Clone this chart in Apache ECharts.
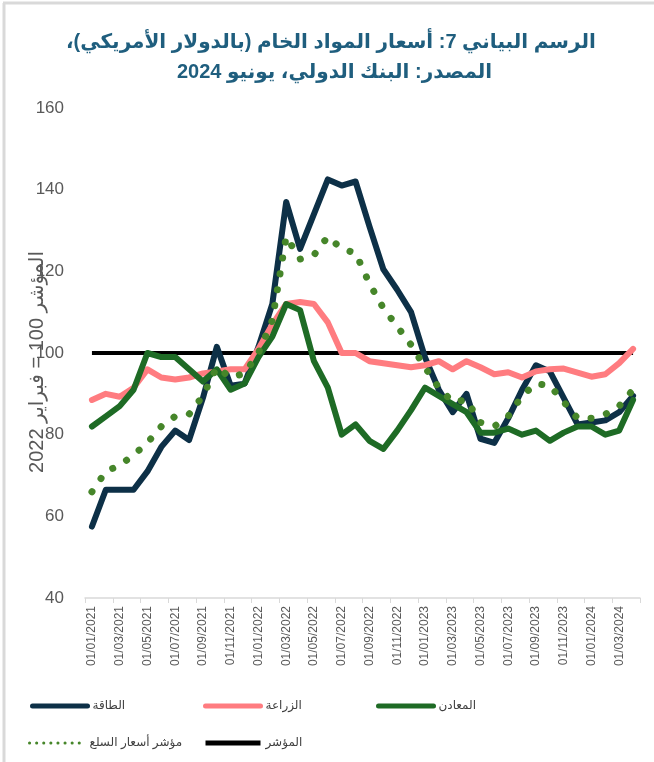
<!DOCTYPE html>
<html>
<head>
<meta charset="utf-8">
<script src="https://cdn.jsdelivr.net/npm/echarts@6/dist/echarts.min.js"></script>
<style>
  html, body { margin: 0; padding: 0; background: #fff; }
  #chart { width: 654px; height: 762px; }
</style>
</head>
<body>
<!-- rtl so the Arabic punctuation and brackets sit where they belong -->
<div id="chart" dir="rtl"></div>
<script>
// monthly, Jan 2021 - Apr 2024 (index, Feb 2022 = 100)
const months = [
  '01/01/2021', '01/02/2021', '01/03/2021', '01/04/2021', '01/05/2021', '01/06/2021',
  '01/07/2021', '01/08/2021', '01/09/2021', '01/10/2021', '01/11/2021', '01/12/2021',
  '01/01/2022', '01/02/2022', '01/03/2022', '01/04/2022', '01/05/2022', '01/06/2022',
  '01/07/2022', '01/08/2022', '01/09/2022', '01/10/2022', '01/11/2022', '01/12/2022',
  '01/01/2023', '01/02/2023', '01/03/2023', '01/04/2023', '01/05/2023', '01/06/2023',
  '01/07/2023', '01/08/2023', '01/09/2023', '01/10/2023', '01/11/2023', '01/12/2023',
  '01/01/2024', '01/02/2024', '01/03/2024', '01/04/2024'
]
const energy = [57.5, 66.5, 66.5, 66.5, 71, 77, 81, 78.7, 89, 101.5, 92, 92.5, 101.5, 112, 137, 125.5, 134, 142.5, 141, 142,
  131, 120.5, 115.5, 110, 99, 91, 85.5, 90, 79, 78, 84, 91, 97, 95.5, 89, 82.5, 83, 83.5, 85.5, 89.5]
const agriculture = [88.5, 90, 89.3, 91.5, 96, 94, 93.5, 94, 95, 95.5, 96, 96, 101, 107, 112, 112.5, 112, 107.5, 100, 100,
  98, 97.5, 97, 96.5, 97, 98, 96, 98, 96.5, 94.8, 95.3, 94, 95.5, 96, 96.2, 95.2, 94.2, 94.8, 97.5, 101]
const metals = [82, 84.5, 87, 91, 100, 99, 99, 96, 93, 96, 91, 92.5, 99, 104, 112, 110.5, 98, 91.5, 80, 82.5,
  78.5, 76.5, 81, 86, 91.5, 89.5, 87.5, 85.5, 80.5, 80.5, 81.5, 80, 81, 78.5, 80.5, 82, 82, 80, 81, 88.5]
const commodityIndex = [66, 71, 72.5, 75, 78, 82, 84.5, 85, 89.5, 96.5, 94, 95, 100, 108, 128.5, 123, 124, 128.5, 125.5, 124.5,
  117, 111, 106.5, 102, 96.5, 91.5, 88, 88.5, 83, 82, 84.5, 89.5, 92.5, 92, 88, 84, 84, 85, 87, 91]
const baseLine = [100, 100, 100, 100, 100, 100, 100, 100, 100, 100, 100, 100, 100, 100, 100, 100, 100, 100, 100, 100,
  100, 100, 100, 100, 100, 100, 100, 100, 100, 100, 100, 100, 100, 100, 100, 100, 100, 100, 100, 100]

const font = 'Liberation Sans, Arial, DejaVu Sans, sans-serif'
const names = {
  energy: 'الطاقة',
  agri: 'الزراعة',
  metals: 'المعادن',
  index: 'مؤشر أسعار السلع',
  base: 'المؤشر'
}

function legendAt (name, left, top, lineStyle) {
  return {
    data: [name],
    left,
    top,
    itemWidth: 55,
    itemHeight: 12,
    itemGap: 4,
    selectedMode: false,
    itemStyle: { opacity: 0 },
    textStyle: { fontFamily: font, fontSize: 12, color: '#404040' },
    lineStyle
  }
}

const titleStyle = { fontFamily: font, fontSize: 20, fontWeight: 'bold', color: '#1f5e7e' }

const chart = echarts.init(document.getElementById('chart'), null, { renderer: 'canvas' })
chart.setOption({
  animation: false,
  backgroundColor: '#fff',
  // left offsets set by hand: the measured width of the arabic line is off, so 'center' drifts
  title: [
    { text: 'الرسم البياني 7: أسعار المواد الخام (بالدولار الأمريكي)،', left: 61, top: 27, textStyle: titleStyle },
    { text: 'المصدر: البنك الدولي، يونيو 2024', left: 172, top: 57, textStyle: titleStyle }
  ],
  graphic: [
    { type: 'line', shape: { x1: 3, y1: 3, x2: 654, y2: 3 }, style: { stroke: '#d9d9d9', lineWidth: 3 } },
    { type: 'line', shape: { x1: 4, y1: 3, x2: 4, y2: 762 }, style: { stroke: '#d9d9d9', lineWidth: 3 } }
  ],
  legend: [
    legendAt(names.energy, 25, 695, { width: 5 }),
    legendAt(names.agri, 198, 695, { width: 5 }),
    legendAt(names.metals, 371, 695, { width: 5 }),
    legendAt(names.index, 23, 732, { width: 3, type: [0.1, 7], cap: 'round' }),
    legendAt(names.base, 198, 732, { width: 5 })
  ],
  grid: { left: 85, right: 14, top: 108, bottom: 164 },
  xAxis: {
    type: 'category',
    data: months,
    boundaryGap: true,
    axisLine: { lineStyle: { color: '#d9d9d9', width: 1.5 } },
    axisTick: { show: true, interval: 1, length: 5, lineStyle: { color: '#d9d9d9' } },
    axisLabel: { interval: 1, rotate: 90, fontFamily: font, fontSize: 12, color: '#595959', margin: 8 }
  },
  yAxis: {
    type: 'value',
    min: 40,
    max: 160,
    interval: 20,
    name: 'المؤشر 100 = فبراير 2022',
    nameLocation: 'middle',
    nameGap: 38,
    nameMoveOverlap: false,
    nameTextStyle: { fontFamily: font, fontSize: 20, color: '#595959', padding: [0, 18, 0, 0] },
    axisLine: { show: false },
    axisTick: { show: false },
    splitLine: { show: false },
    axisLabel: { fontFamily: font, fontSize: 17, color: '#595959', margin: 21 }
  },
  series: [
    {
      name: names.base, type: 'line', data: baseLine, symbol: 'none',
      lineStyle: { color: '#000000', width: 4 }, itemStyle: { color: '#000000' }
    },
    {
      name: names.energy, type: 'line', data: energy, symbol: 'none',
      lineStyle: { color: '#0d3047', width: 6, cap: 'round', join: 'round' }, itemStyle: { color: '#0d3047' }
    },
    {
      name: names.agri, type: 'line', data: agriculture, symbol: 'none',
      lineStyle: { color: '#ff7c80', width: 6, cap: 'round', join: 'round' }, itemStyle: { color: '#ff7c80' }
    },
    {
      name: names.metals, type: 'line', data: metals, symbol: 'none',
      lineStyle: { color: '#1e6b25', width: 6, cap: 'round', join: 'round' }, itemStyle: { color: '#1e6b25' }
    },
    {
      name: names.index, type: 'line', data: commodityIndex, symbol: 'none',
      lineStyle: { color: '#46862a', width: 7, type: [0.1, 16], cap: 'round', join: 'round' }, itemStyle: { color: '#46862a' }
    }
  ]
})
</script>
</body>
</html>
